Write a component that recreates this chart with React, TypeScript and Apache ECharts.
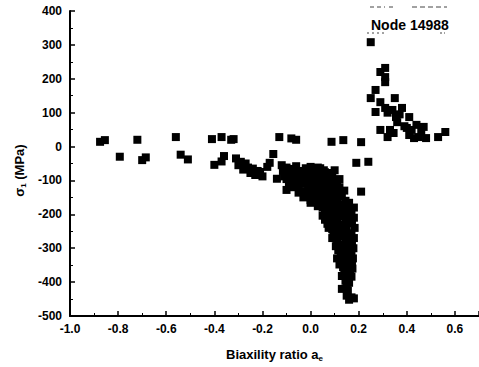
import React, { useEffect, useRef } from "react";
import * as echarts from "echarts";

// Scattered points on the far left, near zero stress
const leftPoints: [number, number][] = [
  [-0.875, 14], [-0.855, 19], [-0.793, -30], [-0.72, 20], [-0.70, -40], [-0.685, -32],
  [-0.56, 28], [-0.54, -24], [-0.51, -38], [-0.41, 22], [-0.37, 28], [-0.33, 20],
  [-0.40, -54], [-0.37, -44], [-0.36, -28], [-0.32, 22], [-0.13, 28], [-0.08, 24],
  [-0.06, 20], [0.087, 14], [0.136, 19], [0.21, 13], [0.19, -48], [0.24, -45], [0.21, -133],
];

// Band sloping down from -0.3 towards the main cluster
const bandPoints: [number, number][] = [
  [-0.31, -35], [-0.29, -45], [-0.30, -55], [-0.27, -50], [-0.26, -62], [-0.28, -68],
  [-0.24, -65], [-0.22, -72], [-0.25, -78], [-0.23, -84], [-0.20, -88], [-0.21, -75],
  [-0.17, -48], [-0.155, -22], [-0.18, -60], [-0.14, -95], [-0.10, -128],
];

// Dense cluster around zero biaxility
const clusterPoints: [number, number][] = [
  [-0.12, -55], [-0.115, -72], [-0.11, -88],
  [-0.10, -62], [-0.095, -80], [-0.10, -96], [-0.09, -110],
  [-0.08, -66], [-0.075, -86], [-0.08, -104], [-0.07, -120],
  [-0.06, -58], [-0.055, -80], [-0.06, -100], [-0.05, -118], [-0.05, -136],
  [-0.04, -72], [-0.035, -92], [-0.04, -110], [-0.03, -132], [-0.03, -150],
  [-0.02, -64], [-0.015, -86], [-0.02, -106], [-0.01, -126], [-0.015, -148], [0.0, -166],
  [0.0, -60], [0.005, -80], [0.0, -100], [0.005, -122], [0.01, -140], [0.0, -158],
  [0.015, -72], [0.01, -94], [0.015, -114], [0.015, -150],
  [0.02, -70], [0.025, -92], [0.02, -112], [0.025, -132], [0.02, -154], [0.03, -176],
  [0.03, -62], [0.035, -82], [0.03, -102], [0.035, -120], [0.035, -142], [0.035, -164],
  [0.04, -64], [0.045, -86], [0.04, -106], [0.045, -128], [0.04, -150], [0.05, -180], [0.05, -204],
  [0.055, -70], [0.05, -96], [0.055, -116], [0.055, -138], [0.055, -160], [0.06, -190], [0.06, -216],
  [0.06, -76], [0.065, -96], [0.06, -120], [0.065, -146], [0.06, -170], [0.065, -200], [0.07, -228],
  [0.07, -86], [0.075, -108], [0.07, -130], [0.075, -154], [0.07, -178], [0.075, -206], [0.075, -240],
  [0.08, -86], [0.085, -110], [0.08, -134], [0.085, -160], [0.08, -186], [0.085, -214], [0.09, -244], [0.09, -270],
  [0.09, -78], [0.095, -100], [0.09, -122], [0.095, -146], [0.09, -170], [0.095, -196], [0.095, -226], [0.095, -256],
  [0.10, -70], [0.10, -100], [0.105, -126], [0.10, -150], [0.105, -176], [0.10, -206], [0.105, -236], [0.10, -264], [0.105, -294],
  [0.11, -110], [0.115, -136], [0.11, -160], [0.115, -186], [0.11, -216], [0.115, -246], [0.11, -276], [0.115, -306], [0.11, -330],
  [0.12, -96], [0.12, -120], [0.125, -146], [0.12, -170], [0.125, -200], [0.12, -230], [0.125, -260], [0.12, -290], [0.125, -320], [0.12, -348],
  [0.13, -140], [0.135, -174], [0.13, -206], [0.135, -236], [0.13, -266], [0.135, -296], [0.13, -326], [0.135, -356], [0.13, -382],
  [0.14, -130], [0.145, -160], [0.14, -190], [0.145, -220], [0.14, -250], [0.145, -280], [0.14, -310], [0.145, -340], [0.14, -370], [0.145, -396],
  [0.15, -176], [0.155, -210], [0.15, -240], [0.155, -270], [0.15, -300], [0.155, -330], [0.15, -360], [0.155, -386], [0.15, -410],
  [0.16, -166], [0.165, -196], [0.16, -226], [0.165, -256], [0.16, -286], [0.165, -316], [0.16, -346], [0.165, -376], [0.16, -402],
  [0.17, -190], [0.172, -224], [0.17, -258], [0.172, -292], [0.17, -322], [0.172, -352], [0.17, -384],
  [0.18, -180], [0.18, -210], [0.183, -240], [0.18, -270], [0.178, -300], [0.176, -330], [0.174, -360],
  [0.13, -420], [0.15, -440], [0.16, -452], [0.17, -445], [0.18, -448], [0.155, -425],
];

// Branch of positive stress at higher biaxility
const rightPoints: [number, number][] = [
  [0.25, 308], [0.29, 220], [0.31, 232], [0.31, 205], [0.31, 190], [0.27, 167],
  [0.25, 143], [0.29, 131], [0.35, 143], [0.31, 114], [0.34, 108], [0.38, 114],
  [0.27, 102], [0.355, 87], [0.41, 87], [0.36, 72], [0.29, 49], [0.33, 49],
  [0.32, 28], [0.40, 55], [0.42, 49], [0.44, 64], [0.47, 58], [0.41, 34],
  [0.45, 28], [0.48, 25], [0.46, 43], [0.53, 28], [0.56, 43], [0.43, 25],
  [0.32, 100], [0.37, 95], [0.39, 60], [0.345, 40],
];

const seriesName = "Node 14988";
const xTitle = "{s|Biaxility ratio a}{sub|e}";
const yTitle = "{s|σ}{sub|1}{s| (MPa)}";

const FONT = "Arial, 'Liberation Sans', Helvetica, sans-serif";

const titleRich = {
  s: { fontSize: 13, fontWeight: "bold" as const, fontFamily: FONT, color: "#000", lineHeight: 16, verticalAlign: "middle" as const },
  sub: { fontSize: 8, fontWeight: "bold" as const, fontFamily: FONT, color: "#000", lineHeight: 8, verticalAlign: "bottom" as const },
};

export default function App() {
  const ref = useRef<HTMLDivElement>(null);

  useEffect(() => {
    if (!ref.current) return;
    const chart = echarts.init(ref.current, undefined, { renderer: "svg" });
    const axisCommon = {
      axisLine: { show: true, onZero: false, lineStyle: { color: "#000", width: 2 } },
      axisTick: { show: true, inside: true, length: 5, lineStyle: { color: "#000", width: 1.5 } },
      minorTick: { show: true, splitNumber: 2, length: 3, lineStyle: { color: "#000", width: 1 } },
      splitLine: { show: false },
      axisLabel: { color: "#000", fontSize: 12, fontWeight: "bold" as const, fontFamily: FONT },
    };
    chart.setOption({
      animation: false,
      backgroundColor: "#fff",
      grid: { left: 70, right: -2, top: 11, bottom: 51, containLabel: false },
      legend: {
        data: [{ name: seriesName, icon: "none" }],
        left: 361,
        top: 13,
        itemWidth: 0,
        itemGap: 0,
        selectedMode: false,
        textStyle: { color: "#000", fontSize: 14, fontWeight: "bold", fontFamily: FONT },
      },
      xAxis: {
        type: "value",
        min: -1.0,
        max: 0.7,
        interval: 0.2,
        ...axisCommon,
        axisLabel: {
          ...axisCommon.axisLabel,
          margin: 7,
          showMaxLabel: false,
          formatter: (v: number) => (Math.abs(v) < 1e-9 ? "0.0" : v.toFixed(1)),
        },
        name: xTitle,
        nameLocation: "middle",
        nameGap: 30,
        nameTextStyle: { rich: titleRich },
      },
      yAxis: {
        type: "value",
        min: -500,
        max: 400,
        interval: 100,
        ...axisCommon,
        axisLabel: { ...axisCommon.axisLabel, margin: 8 },
        name: yTitle,
        nameLocation: "middle",
        nameGap: 38,
        nameRotate: 90,
        nameTextStyle: { rich: titleRich, padding: [0, 14, 0, 0] },
      },
      graphic: [
        { type: "line", shape: { x1: 370, y1: 7, x2: 385, y2: 7 }, style: { stroke: "#444", lineWidth: 1, lineDash: [4, 3] } },
        { type: "line", shape: { x1: 389, y1: 7, x2: 393, y2: 7 }, style: { stroke: "#444", lineWidth: 1 } },
        { type: "line", shape: { x1: 412, y1: 7, x2: 447, y2: 7 }, style: { stroke: "#444", lineWidth: 1, lineDash: [5, 3] } },
        { type: "line", shape: { x1: 367, y1: 33, x2: 385, y2: 33 }, style: { stroke: "#444", lineWidth: 1, lineDash: [2, 3] } },
        { type: "line", shape: { x1: 440, y1: 33, x2: 445, y2: 33 }, style: { stroke: "#444", lineWidth: 1, lineDash: [2, 2] } },
      ],
      series: [
        {
          name: seriesName,
          type: "scatter",
          symbol: "rect",
          symbolSize: 8,
          itemStyle: { color: "#000", opacity: 1 },
          data: [...leftPoints, ...bandPoints, ...clusterPoints, ...rightPoints],
        },
      ],
    });
    return () => chart.dispose();
  }, []);

  return (
    <div
      ref={ref}
      style={{ position: "fixed", left: 0, top: 0, width: 479, height: 367, background: "#fff" }}
    />
  );
}
